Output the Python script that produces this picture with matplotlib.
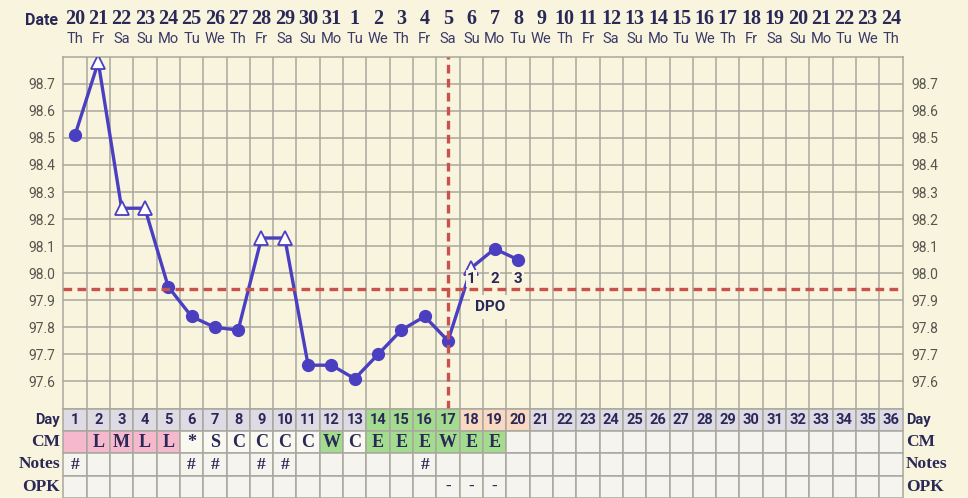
import matplotlib
matplotlib.use('Agg')
import matplotlib.pyplot as plt
import matplotlib.transforms as mtransforms
from matplotlib.patches import Rectangle
import numpy as np

# ---------------- data ----------------
cycle_days = [1, 2, 3, 4, 5, 6, 7, 8, 9, 10, 11, 12, 13, 14, 15, 16, 17, 18,
              19, 20, 21, 22, 23, 24, 25, 26, 27, 28, 29, 30, 31, 32, 33, 34, 35, 36]
dates = [20, 21, 22, 23, 24, 25, 26, 27, 28, 29, 30, 31, 1, 2, 3, 4, 5, 6,
         7, 8, 9, 10, 11, 12, 13, 14, 15, 16, 17, 18, 19, 20, 21, 22, 23, 24]
weekdays = ['Th', 'Fr', 'Sa', 'Su', 'Mo', 'Tu', 'We'] * 5 + ['Th']

temp_days = [1, 2, 3, 4, 5, 6, 7, 8, 9, 10, 11, 12, 13, 14, 15, 16, 17, 18, 19, 20]
temps = [98.51, 98.78, 98.24, 98.24, 97.95, 97.84, 97.80, 97.79, 98.13, 98.13,
         97.66, 97.66, 97.61, 97.70, 97.79, 97.84, 97.75, 98.02, 98.09, 98.05]
open_marker = [False, True, True, True, False, False, False, False, True, True,
               False, False, False, False, False, False, False, True, False, False]

coverline = 97.94
ovulation_day = 17
dpo_days = [18, 19, 20]
dpo_labels = ['1', '2', '3']

ytick_vals = [97.6, 97.7, 97.8, 97.9, 98.0, 98.1, 98.2, 98.3, 98.4, 98.5, 98.6, 98.7]
ytick_labels = ['97.6', '97.7', '97.8', '97.9', '98.0', '98.1', '98.2', '98.3',
                '98.4', '98.5', '98.6', '98.7']

day_cell_type = ['n'] * 13 + ['g'] * 4 + ['p'] * 3 + ['n'] * 16
cm_values = ['', 'L', 'M', 'L', 'L', '*', 'S', 'C', 'C', 'C', 'C', 'W', 'C',
             'E', 'E', 'E', 'W', 'E', 'E'] + [''] * 17
cm_cell_type = ['m'] * 5 + ['w'] * 6 + ['g'] + ['w'] + ['g'] * 6 + ['e'] * 17
notes_values = ['#', '', '', '', '', '#', '#', '', '#', '#', '', '', '', '', '',
                '#'] + [''] * 20
opk_values = [''] * 16 + ['-', '-', '-'] + [''] * 17

# ---------------- style ----------------
bg = '#f8f4dd'
grid_c = '#a9a89e'
line_c = '#4b3fc1'
red_c = '#c9524c'
navy = '#2a2857'
tick_c = '#56554f'
cell_colors = {'n': '#dedbe5', 'g': '#a3dc8f', 'p': '#fad9c3', 'm': '#f5b8cc',
               'w': '#f9f8f1', 'e': '#f5f4ee'}
slab = 'Liberation Serif'

W, H = 968, 498
fig = plt.figure(figsize=(W / 100, H / 100), dpi=100, facecolor=bg)
L, R, T, B = 63.3, 902.7, 56.7, 408.5
ax = fig.add_axes([L / W, 1 - B / H, (R - L) / W, (B - T) / H])
ax.set_facecolor(bg)
ax.set_xlim(0.5, 36.5)
ax.set_ylim(97.5, 98.8)

ax.set_yticks(ytick_vals)
ax.set_yticklabels(ytick_labels, fontfamily='Roboto')
ax.tick_params(axis='y', length=0, pad=6, labelsize=10, labelcolor=tick_c,
               left=True, right=True, labelleft=True, labelright=True)
ax.set_xticks([])
ax.set_xticks(np.arange(1.5, 36.5, 1.0), minor=True)
ax.tick_params(axis='x', which='both', length=0, labelbottom=False)
ax.grid(True, which='major', axis='y', color=grid_c, lw=1.1)
ax.grid(True, which='minor', axis='x', color=grid_c, lw=1.1)
ax.set_axisbelow(True)
for s in ax.spines.values():
    s.set_color(grid_c)
    s.set_linewidth(1.1)

# temperature line
ax.plot(temp_days, temps, color=line_c, lw=2.4, zorder=3, solid_capstyle='round')
fd = [d for d, o in zip(temp_days, open_marker) if not o]
fv = [v for v, o in zip(temps, open_marker) if not o]
od = [d for d, o in zip(temp_days, open_marker) if o]
ov = [v for v, o in zip(temps, open_marker) if o]
ax.plot(fd, fv, 'o', ms=8.5, color=line_c, zorder=6)
ax.plot(od, ov, '^', ms=9.5, mfc='white', mec=line_c, mew=1.3, zorder=6)

# DPO labels
for d, lab in zip(dpo_days, dpo_labels):
    ax.text(d, 97.98, lab, ha='center', va='center', fontsize=11, fontweight='bold',
            fontfamily='Roboto', color=navy, zorder=6.5,
            bbox=dict(boxstyle='square,pad=0.08', fc=bg, ec='none'))
ax.text(18.8, 97.875, 'DPO', ha='center', va='center', fontsize=11, fontweight='bold',
        fontfamily='Roboto', color=navy, zorder=5,
        bbox=dict(boxstyle='square,pad=0.35', fc=bg, ec='none'))

# coverline and ovulation line
ax.axhline(coverline, color=red_c, lw=2.4, ls=(0, (2.6, 1.6)), zorder=7)
ax.axvline(ovulation_day, color=red_c, lw=2.4, ls=(0, (2.6, 1.6)), zorder=7)

# header
trans = mtransforms.blended_transform_factory(ax.transData, fig.transFigure)
for d, dt, wd in zip(cycle_days, dates, weekdays):
    ax.text(d, 1 - 19 / H, str(dt), transform=trans, ha='center', va='center',
            fontsize=14.5, fontweight='bold', fontfamily=slab, color=navy, clip_on=False)
    ax.text(d, 1 - 39 / H, wd, transform=trans, ha='center', va='center',
            fontsize=10.5, fontfamily='Roboto', color='#3a3968', clip_on=False)
fig.text(42 / W, 1 - 20 / H, 'Date', ha='center', va='center', fontsize=11.5,
         fontweight='bold', fontfamily='Roboto', color=navy)

# bottom table
tax = fig.add_axes([L / W, 0, (R - L) / W, (H - B) / H])
tax.set_xlim(0.5, 36.5)
tax.set_ylim(4, 0)
tax.axis('off')
rows = [
    ([str(d) for d in cycle_days], day_cell_type, 'Roboto', 10.5),
    (cm_values, cm_cell_type, slab, 13),
    (notes_values, ['e'] * 36, slab, 12.5),
    (opk_values, ['e'] * 36, slab, 12),
]
for r, (vals, types, fam, fs) in enumerate(rows):
    for d, v, t in zip(cycle_days, vals, types):
        tax.add_patch(Rectangle((d - 0.5, r), 1, 1, fc=cell_colors[t], ec=grid_c,
                                lw=1.1, clip_on=False))
        if v:
            tax.text(d, r + 0.52, v, ha='center', va='center', fontsize=fs,
                     fontweight='bold', fontfamily=fam, color=navy, clip_on=False)

row_names = ['Day', 'CM', 'Notes', 'OPK']
row_fams = ['Roboto', slab, slab, slab]
row_fs = [10.5, 12.5, 12.5, 12.5]
row_h = (H - B) / 4
for i, (nm, fam, fs) in enumerate(zip(row_names, row_fams, row_fs)):
    yc = 1 - (B + row_h * (i + 0.5)) / H
    fig.text(60 / W, yc, nm, ha='right', va='center', fontsize=fs, fontweight='bold',
             fontfamily=fam, color=navy)
    fig.text(906 / W, yc, nm, ha='left', va='center', fontsize=fs, fontweight='bold',
             fontfamily=fam, color=navy)

fig.savefig('out.png', dpi=100, facecolor=bg)
